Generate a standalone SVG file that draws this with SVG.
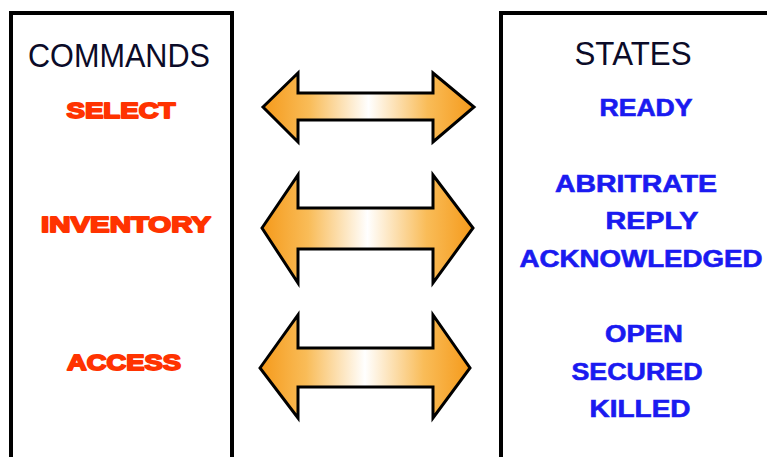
<svg xmlns="http://www.w3.org/2000/svg" width="767" height="457" viewBox="0 0 767 457">
<defs>
<linearGradient id="ag" x1="0" y1="0" x2="1" y2="0">
<stop offset="0" stop-color="#F59A1B"/>
<stop offset="0.22" stop-color="#F9BC58"/>
<stop offset="0.5" stop-color="#FFFFFF"/>
<stop offset="0.78" stop-color="#F9BC58"/>
<stop offset="1" stop-color="#F59A1B"/>
</linearGradient>
<style>
.box{fill:#FFFFFF;stroke:#000000;stroke-width:4}
.arrow{fill:url(#ag);stroke:#000000;stroke-width:3;stroke-linejoin:miter}
.hdr{font-family:"Liberation Sans Narrow","Liberation Sans",Arial,sans-serif;font-size:33px;fill:#0B0B28;text-anchor:middle}
.cmd{font-family:"Liberation Sans",Arial,sans-serif;font-weight:bold;font-size:22px;fill:#FF3300;stroke:#FF3300;stroke-width:1.8;stroke-linejoin:round;text-anchor:middle}
.st{font-family:"Liberation Sans",Arial,sans-serif;font-weight:bold;font-size:23px;fill:#1A1AF0;stroke:#1A1AF0;stroke-width:0.6;text-anchor:middle}
</style>
</defs>
<rect width="767" height="457" fill="#FFFFFF"/>
<g id="commands">
<rect class="box" x="11" y="13" width="221" height="460"/>
<text class="hdr" x="119" y="67" textLength="182" lengthAdjust="spacingAndGlyphs">COMMANDS</text>
</g>
<g id="states">
<rect class="box" x="501" y="13" width="290" height="460"/>
<text class="hdr" x="633" y="65" textLength="117" lengthAdjust="spacingAndGlyphs">STATES</text>
</g>
<g id="cmd-select"><text class="cmd" x="121" y="118" textLength="109" lengthAdjust="spacingAndGlyphs">SELECT</text></g>
<g id="cmd-inventory"><text class="cmd" x="126" y="232" textLength="170" lengthAdjust="spacingAndGlyphs">INVENTORY</text></g>
<g id="cmd-access"><text class="cmd" x="124" y="370" textLength="114" lengthAdjust="spacingAndGlyphs">ACCESS</text></g>
<g id="st-ready"><text class="st" x="646" y="116" textLength="93" lengthAdjust="spacingAndGlyphs">READY</text></g>
<g id="st-arbitrate"><text class="st" x="636" y="192" textLength="162" lengthAdjust="spacingAndGlyphs">ABRITRATE</text></g>
<g id="st-reply"><text class="st" x="652" y="229" textLength="93" lengthAdjust="spacingAndGlyphs">REPLY</text></g>
<g id="st-ack"><text class="st" x="641" y="267" textLength="243" lengthAdjust="spacingAndGlyphs">ACKNOWLEDGED</text></g>
<g id="st-open"><text class="st" x="644" y="342" textLength="78" lengthAdjust="spacingAndGlyphs">OPEN</text></g>
<g id="st-secured"><text class="st" x="637" y="380" textLength="131" lengthAdjust="spacingAndGlyphs">SECURED</text></g>
<g id="st-killed"><text class="st" x="640" y="417" textLength="101" lengthAdjust="spacingAndGlyphs">KILLED</text></g>
<g id="connectors">
<path class="arrow" d="M263,107 L298,73 L298,93 L433,93 L433,73 L474,107 L433,142 L433,120 L298,120 L298,142 Z"/>
<path class="arrow" d="M262,228 L298,175 L298,208 L433,208 L433,175 L473,228 L433,283 L433,249 L298,249 L298,283 Z"/>
<path class="arrow" d="M260,368 L298,315 L298,348 L433,348 L433,315 L470,368 L433,418 L433,387 L298,387 L298,418 Z"/>
</g>
</svg>
